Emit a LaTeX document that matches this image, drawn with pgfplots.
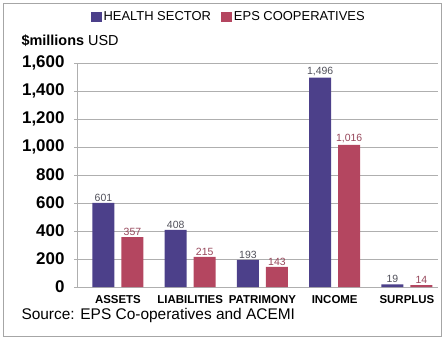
\documentclass[border=0pt]{standalone}
\usepackage{pgfplots}
\pgfplotsset{compat=1.18}
\usepackage{fontspec}
\setmainfont{Liberation Sans}
\definecolor{hblue}{RGB}{76,64,138}
\definecolor{ered}{RGB}{180,70,96}
\definecolor{gridc}{RGB}{175,175,175}
\definecolor{lblb}{RGB}{80,80,90}
\definecolor{lblr}{RGB}{150,70,90}
\pgfplotsset{sqlegend/.style={legend image code/.code={\fill[##1] (0bp,-5bp) rectangle (11bp,5bp);}}}
\begin{document}
\begin{tikzpicture}[x=1bp,y=1bp]
\useasboundingbox (0,0) rectangle (444,339);
\draw[gray!70, line width=0.8bp] (3,3) rectangle (441,336);
\begin{axis}[
  at={(77bp,52bp)}, anchor=south west,
  scale only axis, width=361bp, height=224bp,
  ybar=7bp, bar width=22bp,
  xmin=-0.567, xmax=4.43,
  ymin=0, ymax=1600,
  ytick={0,200,...,1600},
  ymajorgrids, grid style={gridc, line width=0.6bp},
  axis x line=bottom, axis y line=left,
  axis line style={gridc,-},
  tick align=outside,
  major tick length=3bp,
  tick style={gridc, line width=0.6bp},
  xtick={0,1,2,3,4},
  xticklabels={ASSETS,LIABILITIES,PATRIMONY,INCOME,SURPLUS},
  x tick style={draw=none},
  extra x ticks={0.5,1.5,2.5,3.5},
  extra x tick labels={},
  extra x tick style={tick style={draw=gridc}, major tick length=4bp},
  x tick label style={font=\fontsize{11.5}{12}\selectfont\bfseries, yshift=-2bp},
  y tick label style={font=\fontsize{17}{17}\selectfont\bfseries, xshift=-6bp},
  /pgf/number format/1000 sep={,},
  /pgf/number format/assume math mode=true,
  nodes near coords,
  every node near coord/.append style={font=\fontsize{10.5}{10.5}\selectfont, inner sep=1.5bp},
  legend style={at={(0.42,1.205)}, anchor=center, draw=none, fill=none,
    legend columns=2, font=\fontsize{13}{13}\selectfont,
    /tikz/every even column/.append style={column sep=8bp}},
]
\addplot[fill=hblue, draw=none, every node near coord/.append style={text=lblb}, sqlegend]
  coordinates {(0,601) (1,408) (2,193) (3,1496) (4,19)};
\addlegendentry{HEALTH SECTOR}
\addplot[fill=ered, draw=none, every node near coord/.append style={text=lblr}, sqlegend]
  coordinates {(0,357) (1,215) (2,143) (3,1016) (4,14)};
\addlegendentry{EPS COOPERATIVES}
\end{axis}
\node[anchor=west, font=\fontsize{14.5}{15}\selectfont] at (18,298) {\textbf{\$millions} USD};
\node[anchor=west, font=\fontsize{15.5}{16}\selectfont] at (18,24) {Source: EPS Co-operatives and ACEMI};
\end{tikzpicture}
\end{document}
